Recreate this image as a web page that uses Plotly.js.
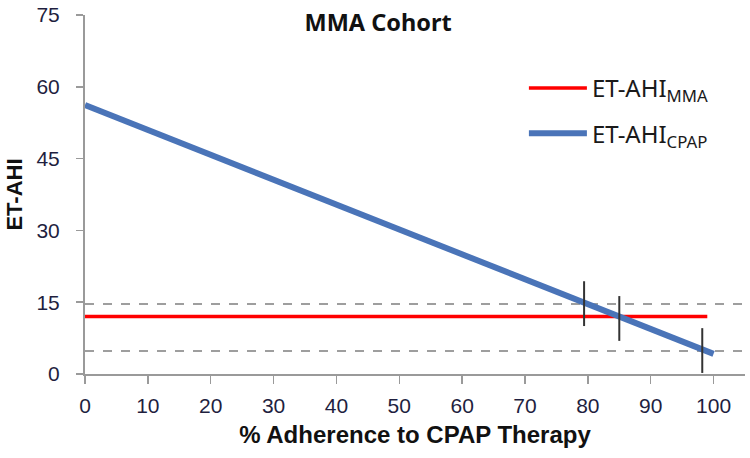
<!DOCTYPE html>
<html>
<head>
<meta charset="utf-8">
<script src="https://cdn.plot.ly/plotly-3.0.1.min.js"></script>
<style>html,body{margin:0;padding:0;background:#fff}#chart{width:750px;height:458px}</style>
</head>
<body>
<div id="chart"></div>
<script>
// Data
const adherence = [0, 100];
const etAhiCpap = [56.2, 4.2];
const mmaX = [0, 99];
const etAhiMma = [12, 12];
const thresholdX = [0, 105];
const thresholdHigh = [14.6, 14.6];
const thresholdLow = [4.8, 4.8];
const crossingX = [79.4, 85, 98.2];
const crossingY = [14.7, 11.6, 4.9];
const xTicks = [0, 10, 20, 30, 40, 50, 60, 70, 80, 90, 100];
const yTicks = [0, 15, 30, 45, 60, 75];

const tickFont = {family: 'Liberation Sans, Arial, sans-serif', size: 21, color: '#1f1f3f'};

const traces = [
  {x: thresholdX, y: thresholdHigh, mode: 'lines', line: {color: '#7f7f7f', width: 1.5, dash: 'dash'}, showlegend: false, hoverinfo: 'skip'},
  {x: thresholdX, y: thresholdLow, mode: 'lines', line: {color: '#7f7f7f', width: 1.5, dash: 'dash'}, showlegend: false, hoverinfo: 'skip'},
  {x: mmaX, y: etAhiMma, mode: 'lines', name: 'ET-AHI<sub>MMA</sub>', line: {color: '#ff0000', width: 3.5}, legendgroup: 'a'},
  {x: adherence, y: etAhiCpap, mode: 'lines', name: 'ET-AHI<sub>CPAP</sub>', line: {color: '#4a74b8', width: 6}, legendgroup: 'b'},
  {x: crossingX, y: crossingY, mode: 'markers', showlegend: false,
   marker: {symbol: 'line-ns-open', size: 32, color: '#333333', line: {color: '#333333', width: 2}}}
];

const layout = {
  width: 750, height: 458,
  margin: {l: 85, r: 5, t: 15, b: 84},
  paper_bgcolor: '#ffffff', plot_bgcolor: '#ffffff',
  title: {text: '<b>MMA Cohort</b>', font: {family: 'Noto Sans, Open Sans, sans-serif', size: 23.5, color: '#111'},
          xref: 'paper', x: 0.444, xanchor: 'center', yref: 'container', y: 0.95, yanchor: 'middle'},
  xaxis: {range: [0, 105], tickvals: xTicks, ticktext: xTicks.map(String), showgrid: false, zeroline: false,
          showline: true, linecolor: '#9a9a9a', linewidth: 2, ticks: 'outside', ticklen: 8, tickcolor: '#9a9a9a', tickwidth: 1.5,
          tickfont: tickFont, ticklabelstandoff: 4,
          title: {text: '<b>% Adherence to CPAP Therapy</b>', font: {family: 'Liberation Sans, Arial, sans-serif', size: 24, color: '#111'}, standoff: 10}},
  yaxis: {range: [0, 75], tickvals: yTicks, ticktext: yTicks.map(String), showgrid: false, zeroline: false,
          showline: true, linecolor: '#9a9a9a', linewidth: 2, ticks: 'outside', ticklen: 7, tickcolor: '#9a9a9a', tickwidth: 1.5,
          tickfont: tickFont, ticklabelstandoff: 12,
          title: {text: '<b>ET-AHI</b>', font: {family: 'Liberation Sans, Arial, sans-serif', size: 22, color: '#111'}, standoff: 8}},
  legend: {x: 0.665, y: 0.858, xanchor: 'left', yanchor: 'top', bgcolor: 'rgba(0,0,0,0)',
           font: {family: 'Noto Sans, Open Sans, sans-serif', size: 24, color: '#1a1a1a'},
           traceorder: 'grouped', tracegroupgap: 11, itemwidth: 58},
  showlegend: true
};

Plotly.newPlot('chart', traces, layout, {displayModeBar: false, staticPlot: true});
</script>
</body>
</html>
